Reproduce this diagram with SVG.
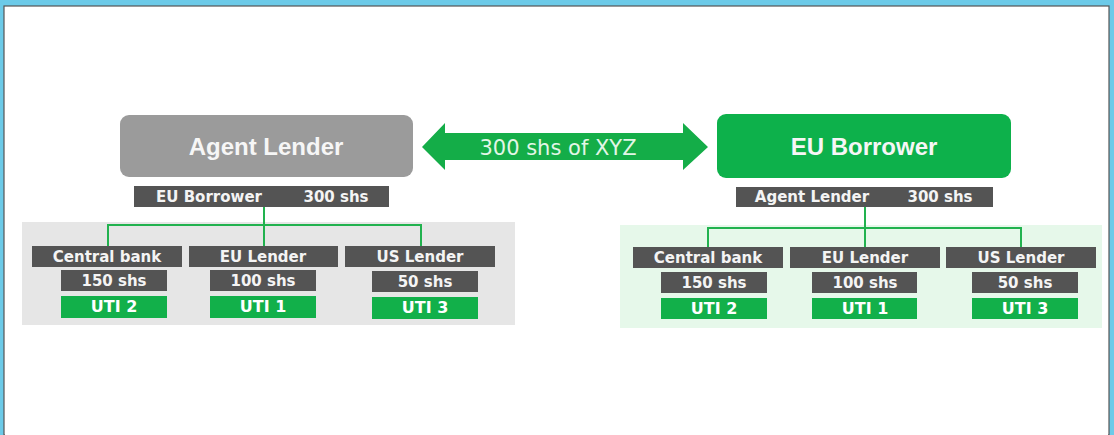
<svg xmlns="http://www.w3.org/2000/svg" width="1114" height="435" viewBox="0 0 1114 435">
<style>
.head{font-family:"Liberation Sans",Arial,sans-serif;font-weight:bold;font-size:24px;fill:#f6f6f6;text-anchor:middle}
.lbl{font-family:"DejaVu Sans",Verdana,sans-serif;font-weight:bold;font-size:15px;fill:#f4f4f4;text-anchor:middle}
.uti{font-family:"DejaVu Sans",Verdana,sans-serif;font-weight:bold;font-size:16px;fill:#ffffff;text-anchor:middle}
.arrowtxt{font-family:"DejaVu Sans",Verdana,sans-serif;font-size:21px;fill:#e2f6e6;text-anchor:middle}
.bar{fill:#545454}
.gbar{fill:#12b04a}
.conn{fill:none;stroke:#22b24f;stroke-width:2}
</style>
<rect x="0" y="0" width="1114" height="435" fill="#6ccae8"/>
<rect x="4" y="6" width="1105" height="429" fill="#ffffff" stroke="#555" stroke-width="1.2"/>
<rect x="5" y="7" width="1103" height="428" fill="#ffffff"/>

<g id="panel-left"><rect x="22" y="222" width="493" height="103" fill="#e6e6e6"/></g>
<g id="panel-right"><rect x="620" y="225" width="482" height="103" fill="#e6f8ea"/></g>

<g id="connectors">
<path class="conn" d="M264 207V225M108 246V225H421V246M264 225V246"/>
<path class="conn" d="M865 206V228M708 247V228H1021V247M865 228V247"/>
</g>

<g id="xyz-arrow">
<polygon points="422,147 445,123 445,133 683,133 683,123 708,147 683,170 683,160 445,160 445,170" fill="#14ad48"/>
<text class="arrowtxt" x="558" y="155">300 shs of XYZ</text>
</g>

<g id="agent-lender">
<rect x="120" y="115" width="293" height="62" rx="9" fill="#9b9b9b"/>
<text class="head" x="266" y="155">Agent Lender</text>
</g>
<g id="agent-lender-position">
<rect class="bar" x="134" y="186" width="255" height="21"/>
<text class="lbl" x="209" y="202">EU Borrower</text>
<text class="lbl" x="336" y="202">300 shs</text>
</g>

<g id="left-central-bank">
<rect class="bar" x="32" y="246" width="150" height="21"/>
<text class="lbl" x="107" y="262">Central bank</text>
<rect class="bar" x="61" y="270" width="106" height="21"/>
<text class="lbl" x="114" y="286">150 shs</text>
<rect class="gbar" x="61" y="296" width="106" height="22"/>
<text class="uti" x="114" y="312">UTI 2</text>
</g>
<g id="left-eu-lender">
<rect class="bar" x="189" y="246" width="149" height="21"/>
<text class="lbl" x="263" y="262">EU Lender</text>
<rect class="bar" x="210" y="270" width="106" height="21"/>
<text class="lbl" x="263" y="286">100 shs</text>
<rect class="gbar" x="210" y="296" width="106" height="22"/>
<text class="uti" x="263" y="312">UTI 1</text>
</g>
<g id="left-us-lender">
<rect class="bar" x="345" y="246" width="150" height="21"/>
<text class="lbl" x="420" y="262">US Lender</text>
<rect class="bar" x="372" y="271" width="106" height="21"/>
<text class="lbl" x="425" y="287">50 shs</text>
<rect class="gbar" x="372" y="297" width="106" height="22"/>
<text class="uti" x="425" y="313">UTI 3</text>
</g>

<g id="eu-borrower">
<rect x="717" y="114" width="294" height="64" rx="9" fill="#0db14b"/>
<text class="head" x="864" y="155">EU Borrower</text>
</g>
<g id="eu-borrower-position">
<rect class="bar" x="736" y="187" width="257" height="20"/>
<text class="lbl" x="812" y="202">Agent Lender</text>
<text class="lbl" x="940" y="202">300 shs</text>
</g>

<g id="right-central-bank">
<rect class="bar" x="633" y="247" width="150" height="21"/>
<text class="lbl" x="708" y="263">Central bank</text>
<rect class="bar" x="661" y="272" width="106" height="21"/>
<text class="lbl" x="714" y="288">150 shs</text>
<rect class="gbar" x="661" y="298" width="106" height="21"/>
<text class="uti" x="714" y="314">UTI 2</text>
</g>
<g id="right-eu-lender">
<rect class="bar" x="790" y="247" width="150" height="21"/>
<text class="lbl" x="865" y="263">EU Lender</text>
<rect class="bar" x="812" y="272" width="105" height="21"/>
<text class="lbl" x="865" y="288">100 shs</text>
<rect class="gbar" x="812" y="298" width="105" height="21"/>
<text class="uti" x="865" y="314">UTI 1</text>
</g>
<g id="right-us-lender">
<rect class="bar" x="946" y="247" width="150" height="21"/>
<text class="lbl" x="1021" y="263">US Lender</text>
<rect class="bar" x="972" y="272" width="106" height="21"/>
<text class="lbl" x="1025" y="288">50 shs</text>
<rect class="gbar" x="972" y="298" width="106" height="21"/>
<text class="uti" x="1025" y="314">UTI 3</text>
</g>
</svg>
